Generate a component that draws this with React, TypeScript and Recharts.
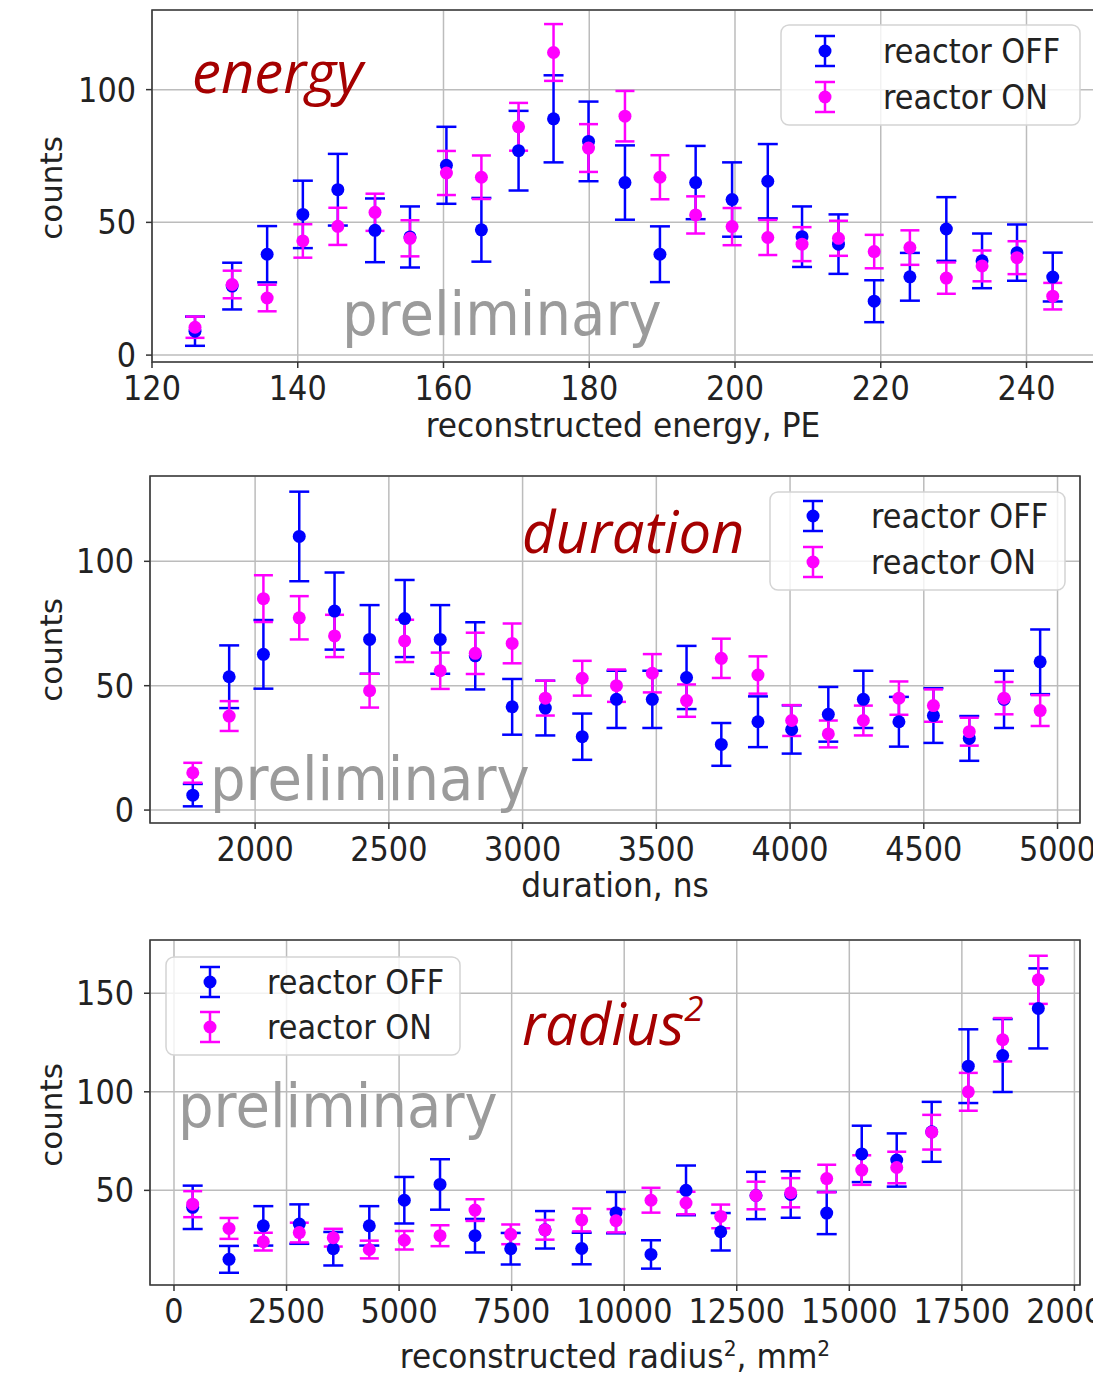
import React from "react";
import {
  ScatterChart,
  Scatter,
  XAxis,
  YAxis,
  CartesianGrid,
  ErrorBar,
  ReferenceArea,
} from "recharts";

const OFF_COLOR = "#0000ff";
const ON_COLOR = "#ff00ff";
const SERIES_NAMES = ["reactor OFF", "reactor ON"];

// energy panel
const ENERGY_X = [125.9, 131.0, 135.8, 140.7, 145.5, 150.6, 155.4, 160.4, 165.2, 170.3, 175.1, 179.9, 184.9, 189.7, 194.6, 199.6, 204.5, 209.2, 214.2, 219.1, 224.0, 229.0, 233.9, 238.7, 243.6];
const ENERGY_OFF = [9, 26, 38, 53, 62.3, 47, 44.5, 71.5, 47.2, 77, 89, 80.5, 65, 38, 65, 58.6, 65.5, 44.6, 41.8, 20.3, 29.5, 47.5, 35.5, 38.6, 29.4];
const ENERGY_OFF_ERR = [5.5, 8.8, 10.6, 12.7, 13.5, 12, 11.5, 14.5, 12, 15, 16.4, 15, 14, 10.5, 13.8, 14, 14, 11.4, 11.2, 7.9, 9, 12, 10.3, 10.6, 9.2];
const ENERGY_ON = [10.5, 26.6, 21.5, 43, 48.5, 53.8, 44, 68.6, 67, 86, 114, 78, 90, 67, 52.8, 48.4, 44.3, 41.8, 44, 39, 40.5, 29, 33.6, 36.7, 22.2];
const ENERGY_ON_ERR = [4, 5.2, 5, 6.3, 7, 7, 6.8, 8.3, 8.2, 9, 10.7, 9, 9.5, 8.3, 7, 7, 6.6, 6.4, 6.6, 6.3, 6.5, 5.9, 5.8, 6.2, 5];
const ENERGY_XTICKS = [120, 140, 160, 180, 200, 220, 240];
const ENERGY_YTICKS = [0, 50, 100];

// duration panel
const DURATION_X = [1767, 1903, 2031, 2165, 2297, 2428, 2559, 2692, 2823, 2961, 3085, 3223, 3351, 3485, 3613, 3743, 3880, 4006, 4143, 4274, 4407, 4536, 4670, 4800, 4935];
const DURATION_OFF = [6, 53.6, 62.6, 110, 80, 68.6, 77, 68.6, 62, 41.5, 41, 29.5, 44.5, 44.5, 53.3, 26.4, 35.5, 32.4, 38.5, 44.5, 35.5, 38, 28.8, 44.5, 59.6];
const DURATION_OFF_ERR = [4.5, 12.6, 13.8, 18, 15.5, 13.8, 15.5, 13.8, 13.5, 11.2, 11, 9.3, 11.5, 11.5, 12.7, 8.6, 10.2, 9.7, 11, 11.5, 10, 11, 9, 11.5, 13];
const DURATION_ON = [15, 37.8, 85, 77.3, 70, 48, 68, 56, 63, 67, 45, 53, 50, 55, 44, 61, 54.3, 36, 30.6, 36, 45, 42, 31.5, 45, 40];
const DURATION_ON_ERR = [4, 6, 9.4, 8.7, 8.5, 6.8, 8.5, 7.3, 8.3, 8, 7, 7, 6.5, 7.7, 6.5, 7.9, 7.5, 6.2, 5.4, 6, 6.7, 6.5, 5.6, 6.5, 6.2];
const DURATION_XTICKS = [2000, 2500, 3000, 3500, 4000, 4500, 5000];
const DURATION_YTICKS = [0, 50, 100];

// radius^2 panel
const RADIUS_X = [415, 1222, 1984, 2783, 3538, 4338, 5116, 5909, 6686, 7479, 8241, 9056, 9818, 10595, 11373, 12144, 12927, 13698, 14498, 15276, 16053, 16830, 17643, 18407, 19198];
const RADIUS_OFF = [41.4, 15, 32, 32.9, 20.4, 32, 45, 53, 27, 20.4, 30, 20.5, 38.7, 17.5, 50, 29, 47.4, 47.9, 38.5, 68.5, 65.4, 79.7, 113, 118.4, 142.3];
const RADIUS_OFF_ERR = [11, 6.8, 10, 10, 8.5, 10, 11.8, 12.8, 8.5, 8, 9.5, 8, 10.5, 7.2, 12.6, 9.5, 12, 11.8, 10.7, 14.3, 13.5, 15.2, 18.7, 18.5, 20.3];
const RADIUS_ON = [43, 30.7, 24, 28.6, 26, 20, 24.7, 27, 40, 27.7, 30, 35, 34.6, 45, 43.6, 36.8, 47.4, 48.8, 56, 60.3, 61.6, 79.5, 100, 126.4, 156.8];
const RADIUS_ON_ERR = [6.6, 5.3, 4.5, 5, 4.5, 4.5, 4.7, 5.3, 5.5, 5, 5, 5.8, 5.9, 6.3, 5.7, 6, 7, 7.4, 7, 7.5, 8, 8.8, 9.6, 11, 12.2];
const RADIUS_XTICKS = [0, 2500, 5000, 7500, 10000, 12500, 15000, 17500, 20000];
const RADIUS_YTICKS = [50, 100, 150];

const FONT = "'DejaVu Sans', sans-serif";
const TEXT_COLOR = "#222";

const toPoints = (xs: number[], ys: number[], errs: number[]) =>
  xs.map((x, i) => ({ x, y: ys[i], err: errs[i] }));

function XTick(props: any) {
  return (
    <g transform={`translate(${props.x},${props.y}) scale(0.92,1)`}>
      <text textAnchor="middle" dy="0.76em" fontSize={33} fontFamily={FONT} fill={TEXT_COLOR}>
        {props.payload.value}
      </text>
    </g>
  );
}

function YTick(props: any) {
  return (
    <g transform={`translate(${props.x},${props.y}) scale(0.92,1)`}>
      <text textAnchor="end" dy="0.36em" fontSize={33} fontFamily={FONT} fill={TEXT_COLOR}>
        {props.payload.value}
      </text>
    </g>
  );
}

const dot = (color: string) => (props: any) =>
  <circle cx={props.cx} cy={props.cy} r={6.5} fill={color} />;

interface PanelProps {
  top: number;
  height: number;
  margin: { top: number; right: number; bottom: number; left: number };
  xDomain: [number, number];
  yDomain: [number, number];
  xTicks: number[];
  yTicks: number[];
  off: { x: number; y: number; err: number }[];
  on: { x: number; y: number; err: number }[];
}

function Panel({ top, height, margin, xDomain, yDomain, xTicks, yTicks, off, on }: PanelProps) {
  return (
    <div style={{ position: "absolute", left: 0, top }}>
      <ScatterChart width={1093} height={height} margin={margin}>
        <CartesianGrid stroke="#bcbcbc" strokeWidth={1.5} />
        <XAxis
          type="number"
          dataKey="x"
          domain={xDomain}
          ticks={xTicks}
          interval={0}
          allowDataOverflow
          height={60}
          tickSize={6}
          tickMargin={7}
          tick={<XTick />}
          axisLine={false}
          tickLine={{ stroke: "#333", strokeWidth: 1.5 }}
        />
        <YAxis
          type="number"
          dataKey="y"
          domain={yDomain}
          ticks={yTicks}
          interval={0}
          allowDataOverflow
          width={100}
          tickSize={6}
          tickMargin={10}
          tick={<YTick />}
          axisLine={false}
          tickLine={{ stroke: "#333", strokeWidth: 1.5 }}
        />
        <ReferenceArea
          x1={xDomain[0]}
          x2={xDomain[1]}
          y1={yDomain[0]}
          y2={yDomain[1]}
          fill="none"
          stroke="#3a3a3a"
          strokeWidth={1.6}
          ifOverflow="visible"
        />
        <Scatter name={SERIES_NAMES[0]} data={off} shape={dot(OFF_COLOR)} isAnimationActive={false}>
          <ErrorBar dataKey="err" direction="y" width={10} stroke={OFF_COLOR} strokeWidth={2.5} />
        </Scatter>
        <Scatter name={SERIES_NAMES[1]} data={on} shape={dot(ON_COLOR)} isAnimationActive={false}>
          <ErrorBar dataKey="err" direction="y" width={9.5} stroke={ON_COLOR} strokeWidth={2.5} />
        </Scatter>
      </ScatterChart>
    </div>
  );
}

function LegendBox({ x, y, w, h, iconX, textX, rows }: any) {
  const colors = [OFF_COLOR, ON_COLOR];
  return (
    <g>
      <rect x={x} y={y} width={w} height={h} rx={8} fill="#fff" fillOpacity={0.8} stroke="#d4d4d4" strokeWidth={1.5} />
      {colors.map((c, i) => (
        <g key={i}>
          <line x1={iconX} x2={iconX} y1={rows[i] - 15} y2={rows[i] + 15} stroke={c} strokeWidth={2.5} />
          <line x1={iconX - 10} x2={iconX + 10} y1={rows[i] - 15} y2={rows[i] - 15} stroke={c} strokeWidth={2.5} />
          <line x1={iconX - 10} x2={iconX + 10} y1={rows[i] + 15} y2={rows[i] + 15} stroke={c} strokeWidth={2.5} />
          <circle cx={iconX} cy={rows[i]} r={6.5} fill={c} />
          <g transform={`translate(${textX},${rows[i] + 12}) scale(0.92,1)`}>
            <text fontSize={33} fontFamily={FONT} fill={TEXT_COLOR}>{SERIES_NAMES[i]}</text>
          </g>
        </g>
      ))}
    </g>
  );
}

const AxisTitle = ({ cx, y, children }: any) => (
  <g transform={`translate(${cx},${y}) scale(0.92,1)`}>
    <text textAnchor="middle" fontSize={34} fontFamily={FONT} fill={TEXT_COLOR}>{children}</text>
  </g>
);

const Counts = ({ cy }: { cy: number }) => (
  <text transform={`translate(62,${cy}) rotate(-90)`} textAnchor="middle" fontSize={31} fontFamily={FONT} fill={TEXT_COLOR}>
    counts
  </text>
);

const Prelim = ({ x, y }: { x: number; y: number }) => (
  <g transform={`translate(${x},${y}) scale(0.92,1)`}>
    <text fontSize={61} fontFamily={FONT} fill="#9b9b9b">preliminary</text>
  </g>
);

const TAG_STYLE = { fontFamily: "'Open Sans', sans-serif", fontStyle: "italic" as const, fontSize: 58, fill: "#a50000" };

export default function App() {
  return (
    <div style={{ position: "relative", width: 1093, height: 1368 }}>
      <Panel
        top={0}
        height={442}
        margin={{ top: 2, right: 6, bottom: 28, left: 44 }}
        xDomain={[120, 249.4]}
        yDomain={[-2.6, 130]}
        xTicks={ENERGY_XTICKS}
        yTicks={ENERGY_YTICKS}
        off={toPoints(ENERGY_X, ENERGY_OFF, ENERGY_OFF_ERR)}
        on={toPoints(ENERGY_X, ENERGY_ON, ENERGY_ON_ERR)}
      />
      <Panel
        top={452}
        height={452}
        margin={{ top: 16, right: 21, bottom: 29, left: 42 }}
        xDomain={[1607, 5084]}
        yDomain={[-5.2, 134.3]}
        xTicks={DURATION_XTICKS}
        yTicks={DURATION_YTICKS}
        off={toPoints(DURATION_X, DURATION_OFF, DURATION_OFF_ERR)}
        on={toPoints(DURATION_X, DURATION_ON, DURATION_ON_ERR)}
      />
      <Panel
        top={917}
        height={451}
        margin={{ top: 15, right: 21, bottom: 31, left: 42 }}
        xDomain={[-533, 20124]}
        yDomain={[2, 177]}
        xTicks={RADIUS_XTICKS}
        yTicks={RADIUS_YTICKS}
        off={toPoints(RADIUS_X, RADIUS_OFF, RADIUS_OFF_ERR)}
        on={toPoints(RADIUS_X, RADIUS_ON, RADIUS_ON_ERR)}
      />
      <svg
        width={1101}
        height={1376}
        style={{ position: "absolute", left: -8, top: -8, pointerEvents: "none", overflow: "visible" }}
      >
        {/* energy */}
        <text x={192} y={93} style={TAG_STYLE}>energy</text>
        <Prelim x={342} y={335} />
        <LegendBox x={781} y={25} w={299} h={100} iconX={825} textX={883} rows={[51, 97]} />
        <AxisTitle cx={623} y={437}>reconstructed energy, PE</AxisTitle>
        <Counts cy={188} />

        {/* duration */}
        <text x={522} y={553} style={TAG_STYLE}>duration</text>
        <Prelim x={210} y={800} />
        <LegendBox x={770} y={492} w={295} h={98} iconX={813} textX={871} rows={[516, 562]} />
        <AxisTitle cx={615} y={897}>duration, ns</AxisTitle>
        <Counts cy={650} />

        {/* radius^2 */}
        <text x={522} y={1045} style={TAG_STYLE}>
          radius<tspan dy={-24} fontSize={35}>2</tspan>
        </text>
        <Prelim x={178} y={1127} />
        <LegendBox x={166} y={957} w={294} h={98} iconX={210} textX={267} rows={[982, 1027]} />
        <AxisTitle cx={615} y={1368}>
          reconstructed radius<tspan dy={-12} fontSize={22}>2</tspan>
          <tspan dy={12}>, mm</tspan>
          <tspan dy={-12} fontSize={22}>2</tspan>
        </AxisTitle>
        <Counts cy={1115} />
      </svg>
    </div>
  );
}
